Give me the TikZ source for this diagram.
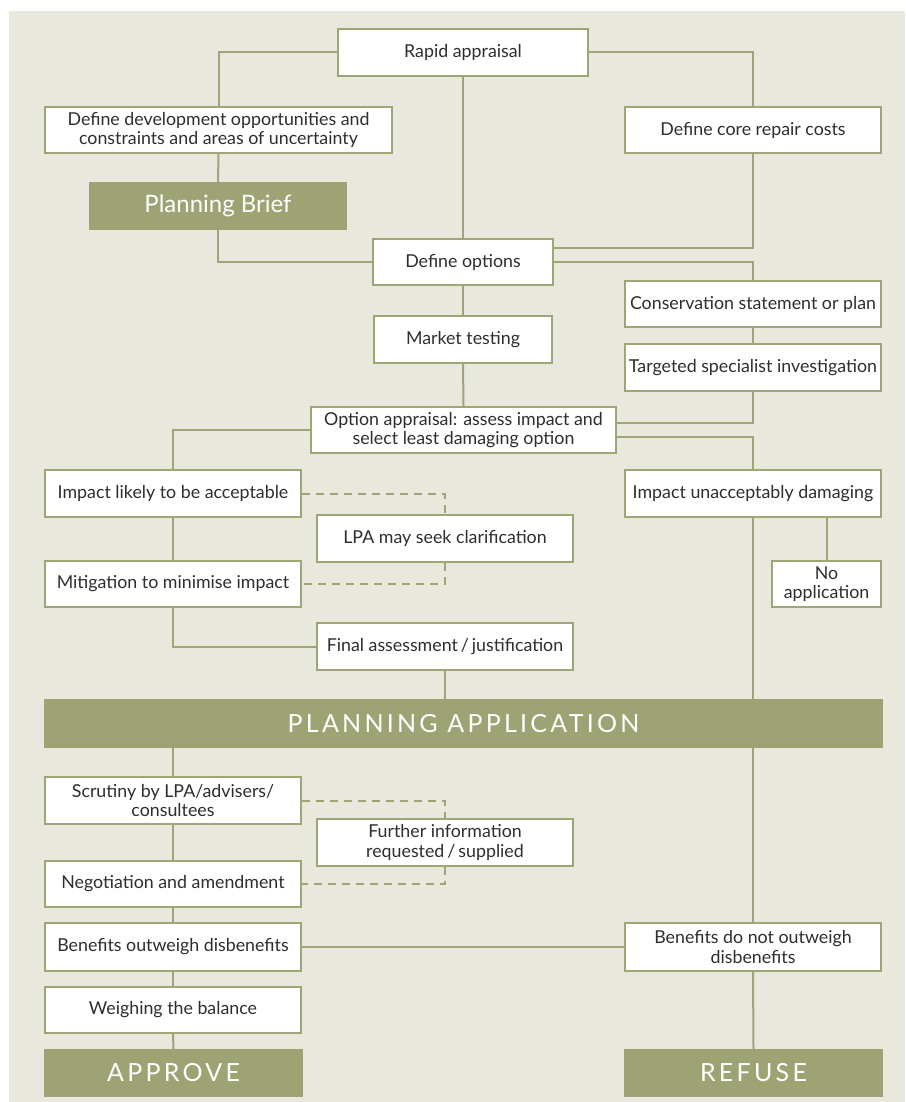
\documentclass[tikz,border=0pt]{standalone}
\usepackage{fontspec}
\setmainfont{Lato}
\newfontfamily\spacedfont[LetterSpace=13]{Lato}
\definecolor{bgc}{HTML}{E8E9DC}
\definecolor{greenfill}{HTML}{9EA374}
\definecolor{boxline}{HTML}{A0A575}
\definecolor{txt}{HTML}{2E2E2E}
\begin{document}
\begin{tikzpicture}[x=1pt,y=-1pt,
  box/.style={draw=boxline, line width=2pt, fill=white, align=center, inner sep=0pt,
    text=txt, font=\fontsize{17.8}{19.5}\selectfont, minimum width=256pt, minimum height=46pt},
  gbox/.style={fill=greenfill, inner sep=0pt, text=white, minimum height=48pt},
  capsfont/.style={font=\spacedfont\fontsize{25}{28}\selectfont},
  conn/.style={draw=boxline, line width=2pt},
  dconn/.style={draw=boxline, line width=2pt, dash pattern=on 8pt off 6pt}
]
\useasboundingbox (0,0) rectangle (905,1102);
\fill[bgc] (9,11) rectangle (905,1102);

% nodes
\node[box, minimum width=250pt, minimum height=47pt] (rapid) at (463,52.5) {Rapid appraisal};
\node[box, minimum width=347pt] (defdev) at (218.5,130) {Define development opportunities and\\constraints and areas of uncertainty};
\node[gbox, minimum width=258pt, font=\fontsize{24}{28}\selectfont] (brief) at (218,206) {Planning Brief};
\node[box] (core) at (753,130) {Define core repair costs};
\node[box, minimum width=180pt] (defopt) at (463,262) {Define options};
\node[box] (cons) at (753,304) {Conservation statement or plan};
\node[box, minimum width=178pt, minimum height=47pt] (market) at (463,339.5) {Market testing};
\node[box, minimum height=47pt] (target) at (753,367.5) {Targeted specialist investigation};
\node[box, minimum width=305pt] (optapp) at (463.5,430) {Option appraisal: assess impact and\\select least damaging option};
\node[box, minimum height=47pt] (implike) at (173,493.5) {Impact likely to be acceptable};
\node[box, minimum height=47pt] (lpa) at (445,538.5) {LPA may seek clarification};
\node[box] (mitig) at (173,584) {Mitigation to minimise impact};
\node[box, minimum height=47pt] (impun) at (753,493.5) {Impact unacceptably damaging};
\node[box, minimum width=109pt] (noapp) at (826.5,584) {No\\application};
\node[box, minimum height=47pt] (final) at (445,646.5) {Final assessment\,/\,justification};
\node[gbox, minimum width=839pt, minimum height=49pt, capsfont] (pa) at (463.5,723.5) {PLANNING APPLICATION};
\node[box, minimum height=47pt] (scrut) at (173,800.5) {Scrutiny by LPA/advisers/\\consultees};
\node[box, minimum height=47pt] (further) at (445,842.5) {Further information\\requested\,/\,supplied};
\node[box] (negot) at (173,884) {Negotiation and amendment};
\node[box, minimum height=48pt] (benout) at (173,947) {Benefits outweigh disbenefits};
\node[box, minimum height=48pt] (bennot) at (753,947) {Benefits do not outweigh\\disbenefits};
\node[box] (weigh) at (173,1010) {Weighing the balance};
\node[gbox, minimum width=259pt, capsfont] (approve) at (173.5,1073) {APPROVE};
\node[gbox, minimum width=259pt, capsfont] (refuse) at (753.5,1073) {REFUSE};

% connectors
\path[conn] (rapid.west) -| (defdev.north);
\path[conn] (rapid.east) -| (core.north);
\path[conn] (rapid.south) -- (defopt.north);
\path[conn] (defdev.south) -- (brief.north);
\path[conn] (brief.south) |- (defopt.west);
\path[conn] (core.south) |- ([yshift=14pt]defopt.east);
\path[conn] (defopt.east) -| (cons.north);
\path[conn] (defopt.south) -- (market.north);
\path[conn] (cons.south) -- (target.north);
\path[conn] (market.south) -- (optapp.north);
\path[conn] (target.south) |- ([yshift=7pt]optapp.east);
\path[conn] ([yshift=-7pt]optapp.east) -| (impun.north);
\path[conn] (optapp.west) -| (implike.north);
\path[conn] (implike.south) -- (mitig.north);
\path[conn] (mitig.south) |- (final.west);
\path[conn] (final.south) -- (final.south |- pa.north);
\path[conn] (impun.south) -- (impun.south |- pa.north);
\path[conn] (noapp.north |- impun.south) -- (noapp.north);
\path[conn] (scrut.north |- pa.south) -- (scrut.north);
\path[conn] (bennot.north |- pa.south) -- (bennot.north);
\path[conn] (scrut.south) -- (negot.north);
\path[conn] (negot.south) -- (benout.north);
\path[conn] (benout.south) -- (weigh.north);
\path[conn] (weigh.south) -- (approve.north);
\path[conn] (benout.east) -- (bennot.west);
\path[conn] (bennot.south) -- (refuse.north);
\path[dconn] (implike.east) -| (lpa.north);
\path[dconn] (lpa.south) |- (mitig.east);
\path[dconn] (scrut.east) -| (further.north);
\path[dconn] (further.south) |- (negot.east);
\end{tikzpicture}
\end{document}
